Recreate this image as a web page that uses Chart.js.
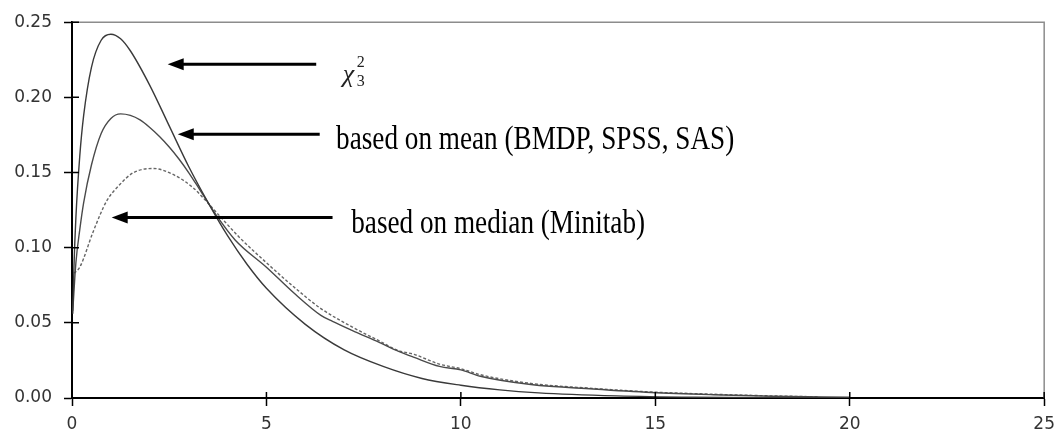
<!DOCTYPE html>
<html>
<head>
<meta charset="utf-8">
<script src="https://cdn.jsdelivr.net/npm/chart.js@4"></script>
<style>
  body { margin: 0; background: #fff; }
</style>
</head>
<body>
<canvas id="chart" width="1063" height="439"></canvas>
<script>
// chi-square (3 df) curve
var chiX = [0.02, 0.05, 0.1, 0.2, 0.3, 0.5, 0.75, 1, 1.25, 1.5, 2, 2.5, 3, 3.5, 4, 4.5, 5, 6, 7, 8, 9, 10, 11, 12, 14, 16, 18, 20];
var chiY = [0.056, 0.087, 0.120, 0.161, 0.188, 0.220, 0.238, 0.242, 0.239, 0.231, 0.208, 0.181, 0.154, 0.130, 0.108, 0.089, 0.073, 0.049, 0.032, 0.021, 0.013, 0.0085, 0.0054, 0.0034, 0.0014, 0.0005, 0.0002, 0.0001];

// based on mean (BMDP, SPSS, SAS)
var meanX = [0.02, 0.1, 0.2, 0.3, 0.5, 0.75, 1.0, 1.25, 1.5, 1.75, 2.0, 2.25, 2.5, 2.75, 3.0, 3.3, 3.7, 4.2, 5.0, 5.7, 6.4, 6.7, 7.2, 7.9, 8.4, 8.8, 9.45, 10.0, 10.5, 11.8, 13.4, 14.9, 16.5, 18, 20];
var meanY = [0.058, 0.090, 0.112, 0.130, 0.155, 0.176, 0.186, 0.189, 0.188, 0.185, 0.180, 0.174, 0.167, 0.159, 0.150, 0.138, 0.122, 0.105, 0.087, 0.070, 0.055, 0.051, 0.045, 0.037, 0.031, 0.027, 0.021, 0.0187, 0.0145, 0.0090, 0.0060, 0.0037, 0.0022, 0.0012, 0.0005];

// based on median (Minitab)
var medianX = [0.05, 0.2, 0.55, 0.89, 1.23, 1.57, 2.09, 2.6, 3.11, 3.45, 3.8, 4.3, 5.0, 5.7, 6.4, 7.2, 7.9, 8.4, 8.8, 9.45, 10.0, 10.5, 11.8, 13.4, 14.9, 16.5, 18, 19.2];
var medianY = [0.083, 0.087, 0.111, 0.131, 0.142, 0.1498, 0.1527, 0.1487, 0.140, 0.131, 0.121, 0.107, 0.090, 0.074, 0.0595, 0.0473, 0.038, 0.0315, 0.029, 0.0225, 0.0195, 0.0155, 0.0097, 0.0064, 0.0040, 0.0025, 0.0014, 0.0008];

var xTicks = [0, 5, 10, 15, 20, 25];
var yTicks = [0, 0.05, 0.10, 0.15, 0.20, 0.25];

// annotation arrows: tail -> head, in data units
var arrows = [
  { from: [6.28, 0.2221], to: [2.46, 0.2221] },
  { from: [6.37, 0.1755], to: [2.72, 0.1755] },
  { from: [6.70, 0.1200], to: [1.02, 0.1200] }
];
var labels = [
  { text: "based on mean (BMDP, SPSS, SAS)", x: 6.79, y: 0.1655 },
  { text: "based on median (Minitab)", x: 7.18, y: 0.1095 }
];
var chiLabel = { x: 6.96, y: 0.210 };

function points(xs, ys) {
  return xs.map(function (x, i) { return { x: x, y: ys[i] }; });
}

var frame = {
  id: "frame",
  afterDraw: function (chart) {
    var ctx = chart.ctx;
    var a = chart.chartArea;
    var xs = chart.scales.x, ys = chart.scales.y;
    ctx.save();
    // grey top and right border
    ctx.strokeStyle = "#8c8c8c";
    ctx.lineWidth = 1.5;
    ctx.beginPath();
    ctx.moveTo(a.left, a.top);
    ctx.lineTo(a.right, a.top);
    ctx.lineTo(a.right, a.bottom);
    ctx.stroke();
    // tick marks reaching inside the plot
    ctx.strokeStyle = "#000";
    ctx.lineWidth = 1.5;
    ctx.beginPath();
    yTicks.forEach(function (v) {
      var py = ys.getPixelForValue(v);
      ctx.moveTo(a.left, py);
      ctx.lineTo(a.left + 7, py);
    });
    xTicks.forEach(function (v) {
      var px = xs.getPixelForValue(v);
      ctx.moveTo(px, a.bottom);
      ctx.lineTo(px, a.bottom - 6);
    });
    ctx.stroke();

    // arrows
    ctx.fillStyle = "#000";
    arrows.forEach(function (ar) {
      var x1 = xs.getPixelForValue(ar.from[0]), y1 = ys.getPixelForValue(ar.from[1]);
      var x2 = xs.getPixelForValue(ar.to[0]), y2 = ys.getPixelForValue(ar.to[1]);
      ctx.lineWidth = 3;
      ctx.beginPath();
      ctx.moveTo(x1, y1);
      ctx.lineTo(x2 + 12, y2);
      ctx.stroke();
      ctx.beginPath();
      ctx.moveTo(x2, y2);
      ctx.lineTo(x2 + 16, y2 - 6);
      ctx.lineTo(x2 + 16, y2 + 6);
      ctx.closePath();
      ctx.fill();
    });

    // text labels (narrow serif)
    labels.forEach(function (l) {
      ctx.save();
      ctx.translate(xs.getPixelForValue(l.x), ys.getPixelForValue(l.y));
      ctx.scale(0.8, 1);
      ctx.font = '34px "Liberation Serif"';
      ctx.textBaseline = "alphabetic";
      ctx.fillText(l.text, 0, 0);
      ctx.restore();
    });

    // chi-square symbol
    var cx = xs.getPixelForValue(chiLabel.x), cy = ys.getPixelForValue(chiLabel.y);
    ctx.font = 'italic 26px "Liberation Serif"';
    ctx.textBaseline = "alphabetic";
    ctx.fillStyle = "#222";
    ctx.fillText("\u03c7", cx, cy);
    ctx.font = '16px "Liberation Serif"';
    ctx.fillText("2", cx + 14, cy - 15);
    ctx.fillText("3", cx + 14, cy + 4);
    ctx.restore();
  }
};

var tickFont = { family: "DejaVu Sans", size: 17 };

new Chart(document.getElementById("chart").getContext("2d"), {
  type: "scatter",
  data: {
    datasets: [
      {
        label: "chi-square 3",
        data: points(chiX, chiY),
        showLine: true,
        borderColor: "#3a3a3a",
        borderWidth: 1.4,
        pointRadius: 0,
        cubicInterpolationMode: "monotone"
      },
      {
        label: "based on mean",
        data: points(meanX, meanY),
        showLine: true,
        borderColor: "#4a4a4a",
        borderWidth: 1.4,
        pointRadius: 0,
        cubicInterpolationMode: "monotone"
      },
      {
        label: "based on median",
        data: points(medianX, medianY),
        showLine: true,
        borderColor: "#666",
        borderWidth: 1.4,
        borderDash: [3, 2],
        pointRadius: 0,
        cubicInterpolationMode: "monotone"
      }
    ]
  },
  options: {
    responsive: false,
    animation: false,
    layout: { padding: { top: 20, right: 17, left: 0, bottom: 0 } },
    plugins: {
      legend: { display: false },
      tooltip: { enabled: false }
    },
    scales: {
      x: {
        type: "linear",
        min: 0,
        max: 25,
        afterBuildTicks: function (scale) {
          scale.ticks = xTicks.map(function (v) { return { value: v }; });
        },
        afterFit: function (scale) { scale.height = 41; },
        ticks: { font: tickFont, color: "#333", padding: 8, maxRotation: 0 },
        grid: { drawOnChartArea: false, tickLength: 8, color: "#000", tickWidth: 1.5 },
        border: { color: "#000", width: 2 }
      },
      y: {
        type: "linear",
        min: 0,
        max: 0.25,
        afterBuildTicks: function (scale) {
          scale.ticks = yTicks.map(function (v) { return { value: v }; });
        },
        afterFit: function (scale) { scale.width = 72; },
        ticks: {
          font: tickFont,
          color: "#333",
          padding: 12,
          callback: function (v) { return v.toFixed(2); }
        },
        grid: { drawOnChartArea: false, tickLength: 8, color: "#000", tickWidth: 1.5 },
        border: { color: "#000", width: 2 }
      }
    }
  },
  plugins: [frame]
});
</script>
</body>
</html>
